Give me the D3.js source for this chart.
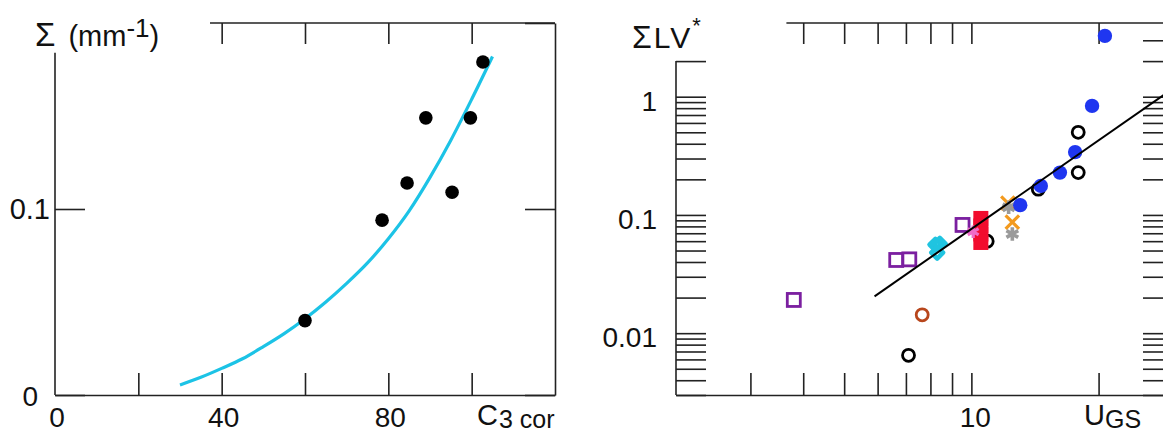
<!DOCTYPE html>
<html><head><meta charset="utf-8">
<script src="https://cdn.jsdelivr.net/npm/d3@7"></script>
<style>
html,body{margin:0;padding:0;background:#fff;}
svg{display:block;}
text{font-family:"Liberation Sans",Arial,Helvetica,sans-serif;fill:#111;}
.axis path,.axis line{stroke:#222;stroke-width:1.6;}
</style></head><body>
<script>
// ---------- Left panel data ----------
const leftX = [60, 78.5, 84.5, 89, 95.3, 99.7, 102.7];
const leftY = [0.040, 0.094, 0.114, 0.149, 0.109, 0.149, 0.179];
const curveX = [30, 35, 40, 45, 50, 55, 60, 65, 70, 75, 80, 85, 90, 95, 100, 105];
const curveY = [0.0054, 0.0095, 0.0143, 0.0195, 0.026, 0.033, 0.041, 0.050, 0.060, 0.071, 0.084, 0.099, 0.117, 0.137, 0.159, 0.182];
const leftXTicks = [20, 40, 60, 80, 100];
const leftXTopTicks = [40, 60, 80, 100];
const leftXLabels = [0, 40, 80];
const leftYTicks = [0, 0.1];
const leftYRightTicks = [0, 0.1, 0.2];

// ---------- Right panel data ----------
const blueX = [20.7, 19.3, 17.6, 16.2, 14.6, 13.05];
const blueY = [3.27, 0.836, 0.34, 0.228, 0.176, 0.121];
const blackX = [17.9, 17.9, 14.4, 10.9, 7.1];
const blackY = [0.50, 0.228, 0.165, 0.060, 0.0065];
const brownX = [7.65];
const brownY = [0.0143];
const purpleX = [3.80, 6.64, 7.13, 9.53];
const purpleY = [0.0191, 0.0416, 0.0421, 0.0823];
const cyanX = [8.22, 8.42, 8.3];
const cyanY = [0.056, 0.057, 0.048];
const redX = [10.53, 10.53, 10.53, 10.53];
const redY = [0.0934, 0.0807, 0.069, 0.0585];
const pinkX = [10.1];
const pinkY = [0.072];
const orangeX = [12.2, 12.5];
const orangeY = [0.126, 0.087];
const grayX = [12.25, 12.5];
const grayY = [0.116, 0.069];
const fitX = [5.9, 30];
const fitY = [0.0205, 1.17];
const rXTicks = [3, 4, 5, 6, 7, 8, 9, 10, 20];
const rXTopTicks = [4, 5, 6, 7, 8, 9, 10, 20];
const rXLabels = [10];
const rYTicksLeft = [2, 1, 0.9, 0.8, 0.7, 0.6, 0.5, 0.4, 0.3, 0.2,
  0.1, 0.09, 0.08, 0.07, 0.06, 0.05, 0.04, 0.03, 0.02,
  0.01, 0.009, 0.008, 0.007, 0.006, 0.005, 0.004, 0.003];
const rYTicksRight = [3].concat(rYTicksLeft);
const rYLabels = [1, 0.1, 0.01];

const W = 1163, H = 434;
const svg = d3.select("body").append("svg").attr("width", W).attr("height", H);

// ================= LEFT PANEL =================
const lx = d3.scaleLinear().domain([0, 120]).range([55, 555]);
const ly = d3.scaleLinear().domain([0, 0.2]).range([395, 23]);

svg.append("g").attr("class", "axis").attr("transform", "translate(0,395)")
  .call(d3.axisBottom(lx).tickValues(leftXTicks).tickSize(-22).tickSizeOuter(0).tickFormat(""));
const lt = svg.append("g").attr("class", "axis").attr("transform", "translate(0,23)")
  .call(d3.axisTop(lx).tickValues(leftXTopTicks).tickSize(-21).tickSizeOuter(0).tickFormat(""));
lt.select(".domain").remove();
svg.append("line").attr("x1", lx(37.2)).attr("x2", lx(120)).attr("y1", ly(0.2)).attr("y2", ly(0.2))
  .attr("stroke", "#222").attr("stroke-width", 1.6);
const ll = svg.append("g").attr("class", "axis").attr("transform", "translate(55,0)")
  .call(d3.axisLeft(ly).tickValues(leftYTicks).tickSize(-30).tickSizeOuter(0).tickFormat(""));
ll.select(".domain").remove();
ll.selectAll(".tick line").attr("stroke-width", 2.2);
svg.append("line").attr("x1", 55).attr("x2", 55).attr("y1", ly(0.184)).attr("y2", ly(0))
  .attr("stroke", "#222").attr("stroke-width", 1.6);
const lr = svg.append("g").attr("class", "axis").attr("transform", "translate(555,0)")
  .call(d3.axisRight(ly).tickValues(leftYRightTicks).tickSize(-30).tickSizeOuter(0).tickFormat(""));
lr.selectAll(".tick line").attr("stroke-width", 2.2);

// curve
const curveData = curveX.map((d, i) => [d, curveY[i]]);
svg.append("path").datum(curveData)
  .attr("d", d3.line().x(d => lx(d[0])).y(d => ly(d[1])).curve(d3.curveMonotoneX))
  .attr("fill", "none").attr("stroke", "#1cc3e6").attr("stroke-width", 3.2);
// points
svg.append("g").selectAll("circle").data(leftX.map((d, i) => [d, leftY[i]])).join("circle")
  .attr("cx", d => lx(d[0])).attr("cy", d => ly(d[1])).attr("r", 6.8).attr("fill", "#000");

// labels
svg.append("g").selectAll("text").data(leftXLabels).join("text")
  .attr("x", d => lx(d) + 2).attr("y", 427).attr("text-anchor", "middle")
  .attr("font-size", 28).text(d => d);
svg.append("text").attr("x", 50).attr("y", ly(0.1) + 10).attr("text-anchor", "end")
  .attr("font-size", 29).text("0.1");
svg.append("text").attr("x", 38).attr("y", ly(0) + 11).attr("text-anchor", "end")
  .attr("font-size", 28).text("0");
const lxt = svg.append("text").attr("x", 477).attr("y", 425).attr("font-size", 29);
lxt.append("tspan").text("C");
lxt.append("tspan").attr("font-size", 25).attr("dy", 3).attr("dx", 1).text("3 cor");
const lyt = svg.append("text").attr("x", 35).attr("y", 46).attr("font-size", 29);
lyt.append("tspan").attr("font-size", 33).text("Σ");
lyt.append("tspan").attr("dx", 13).text("(mm");
lyt.append("tspan").attr("dy", -9).attr("font-size", 26).text("-1");
lyt.append("tspan").attr("dy", 9).text(")");

// ================= RIGHT PANEL =================
const rx = d3.scaleLog().domain([2, 30]).range([676, 1173]);
const ry = d3.scaleLog().domain([0.003, 4.2]).range([395, 23]);

svg.append("g").attr("class", "axis").attr("transform", "translate(0,395)")
  .call(d3.axisBottom(rx).tickValues(rXTicks).tickSize(-22).tickSizeOuter(0).tickFormat(""));
const rt = svg.append("g").attr("class", "axis").attr("transform", "translate(0,23)")
  .call(d3.axisTop(rx).tickValues(rXTopTicks).tickSize(-21).tickSizeOuter(0).tickFormat(""));
rt.select(".domain").remove();
svg.append("line").attr("x1", rx(3.65)).attr("x2", rx(30)).attr("y1", 23).attr("y2", 23)
  .attr("stroke", "#222").attr("stroke-width", 1.6);
const rl = svg.append("g").attr("class", "axis").attr("transform", "translate(676,0)")
  .call(d3.axisLeft(ry).tickValues(rYTicksLeft).tickSize(-30).tickSizeOuter(0).tickFormat(""));
rl.select(".domain").remove();
svg.append("line").attr("x1", 676).attr("x2", 676).attr("y1", ry(2)).attr("y2", 395)
  .attr("stroke", "#222").attr("stroke-width", 1.6);
svg.append("g").attr("class", "axis").attr("transform", "translate(1173,0)")
  .call(d3.axisRight(ry).tickValues(rYTicksRight).tickSize(-30).tickSizeOuter(0).tickFormat(""));

// markers
const pts = (xs, ys) => xs.map((d, i) => [d, ys[i]]);
const g = svg.append("g");
g.selectAll(".blk").data(pts(blackX, blackY)).join("circle").attr("class", "blk")
  .attr("cx", d => rx(d[0])).attr("cy", d => ry(d[1])).attr("r", 6)
  .attr("fill", "none").attr("stroke", "#000").attr("stroke-width", 2.8);
g.selectAll(".brn").data(pts(brownX, brownY)).join("circle").attr("class", "brn")
  .attr("cx", d => rx(d[0])).attr("cy", d => ry(d[1])).attr("r", 6)
  .attr("fill", "none").attr("stroke", "#b8461c").attr("stroke-width", 2.8);
g.selectAll(".pur").data(pts(purpleX, purpleY)).join("rect").attr("class", "pur")
  .attr("x", d => rx(d[0]) - 6.5).attr("y", d => ry(d[1]) - 6.5).attr("width", 13).attr("height", 13)
  .attr("fill", "none").attr("stroke", "#7b1fa0").attr("stroke-width", 2.8);
g.selectAll(".cyn").data(pts(cyanX, cyanY)).join("path").attr("class", "cyn")
  .attr("transform", d => `translate(${rx(d[0])},${ry(d[1])}) rotate(45)`)
  .attr("d", d3.symbol(d3.symbolSquare, 70)())
  .attr("fill", "none").attr("stroke", "#20c4e0").attr("stroke-width", 4.5).attr("stroke-linejoin", "round");
g.selectAll(".red").data(pts(redX, redY)).join("rect").attr("class", "red")
  .attr("x", d => rx(d[0]) - 7.5).attr("y", d => ry(d[1]) - 7.5).attr("width", 15).attr("height", 15)
  .attr("fill", "#f20c2e");
g.selectAll(".pnk").data(pts(pinkX, pinkY)).join("path").attr("class", "pnk")
  .attr("transform", d => `translate(${rx(d[0])},${ry(d[1])})`)
  .attr("d", d3.symbol(d3.symbolAsterisk, 110)())
  .attr("fill", "none").attr("stroke", "#f06cc8").attr("stroke-width", 3.2);
g.selectAll(".org").data(pts(orangeX, orangeY)).join("path").attr("class", "org")
  .attr("transform", d => `translate(${rx(d[0])},${ry(d[1])})`)
  .attr("d", d3.symbol(d3.symbolTimes, 120)())
  .attr("fill", "none").attr("stroke", "#f39a1e").attr("stroke-width", 3.2);
g.selectAll(".gry").data(pts(grayX, grayY)).join("path").attr("class", "gry")
  .attr("transform", d => `translate(${rx(d[0])},${ry(d[1])})`)
  .attr("d", d3.symbol(d3.symbolAsterisk, 130)())
  .attr("fill", "none").attr("stroke", "#9a9a9a").attr("stroke-width", 3.6);
g.selectAll(".blu").data(pts(blueX, blueY)).join("circle").attr("class", "blu")
  .attr("cx", d => rx(d[0])).attr("cy", d => ry(d[1])).attr("r", 7.2)
  .attr("fill", "#1f36f0");
// fit line
svg.append("path").datum(pts(fitX, fitY))
  .attr("d", d3.line().x(d => rx(d[0])).y(d => ry(d[1])))
  .attr("fill", "none").attr("stroke", "#000").attr("stroke-width", 2);

// labels
svg.append("g").selectAll("text").data(rYLabels).join("text")
  .attr("x", 657).attr("y", d => ry(d) + 14).attr("text-anchor", "end")
  .attr("font-size", 28).text(d => d);
svg.append("g").selectAll("text").data(rXLabels).join("text")
  .attr("x", d => rx(d) + 4).attr("y", 427).attr("text-anchor", "middle")
  .attr("font-size", 28).text(d => d);
const rxt = svg.append("text").attr("x", 1084).attr("y", 425).attr("font-size", 29);
rxt.append("tspan").text("U");
rxt.append("tspan").attr("font-size", 25).attr("dy", 3).text("GS");
const ryt = svg.append("text").attr("x", 632).attr("y", 48).attr("font-size", 30).attr("letter-spacing", 2);
ryt.append("tspan").attr("font-size", 32).text("Σ");
ryt.append("tspan").text("LV");
ryt.append("tspan").attr("dy", -15).attr("font-size", 22).text("*");
</script>
</body></html>
